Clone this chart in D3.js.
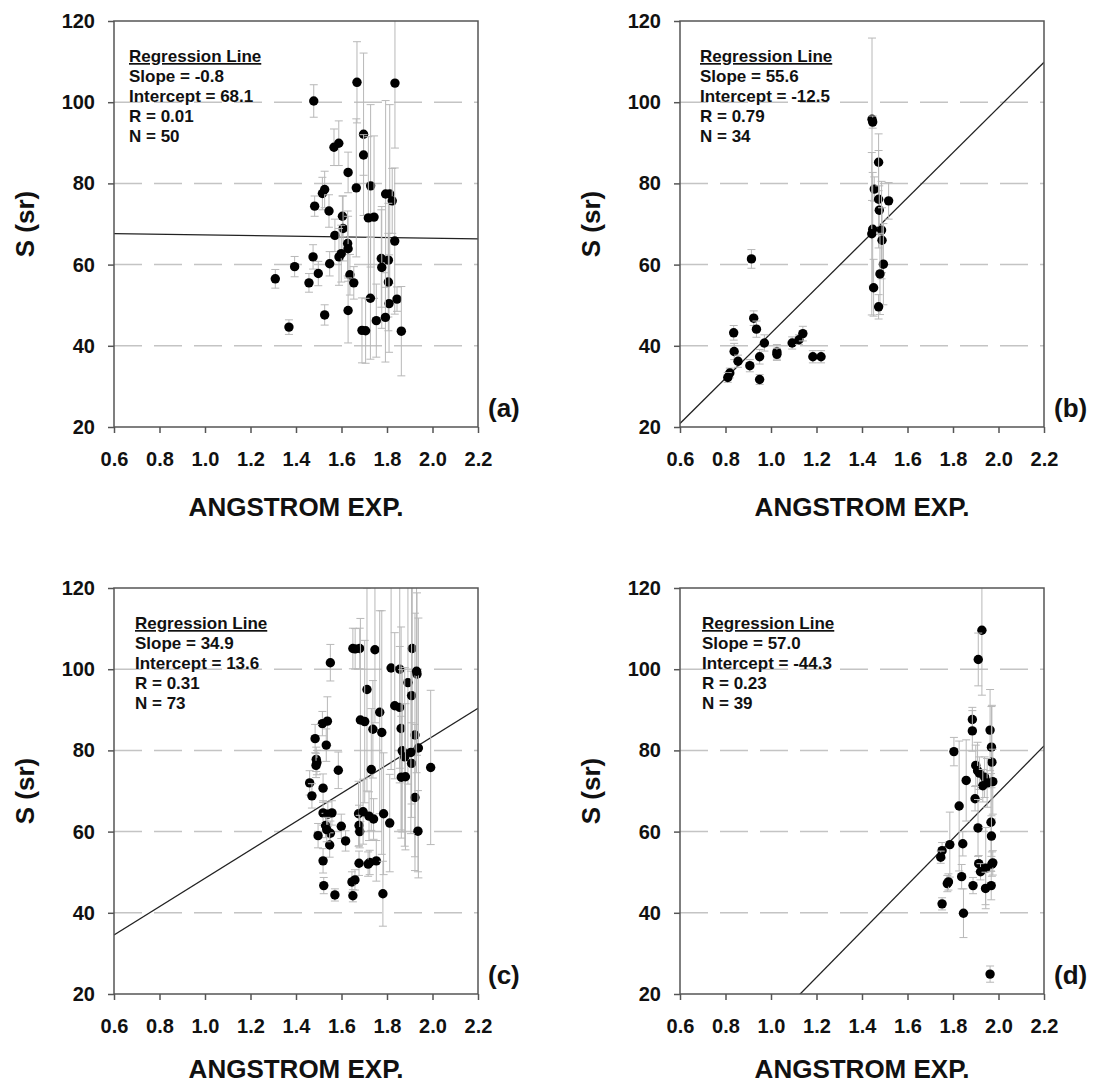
<!DOCTYPE html>
<html>
<head>
<meta charset="utf-8">
<script src="https://cdn.jsdelivr.net/npm/d3@7"></script>
<style>
  body { margin: 0; background: #fff; }
  svg text { font-family: "Liberation Sans", Arial, sans-serif; font-weight: bold; fill: #111; }
</style>
</head>
<body>
<div id="container"></div>
<script>
// ---- data ----
const xTicks = [0.6, 0.8, 1.0, 1.2, 1.4, 1.6, 1.8, 2.0, 2.2];
const yTicks = [20, 40, 60, 80, 100, 120];
const gridValues = [40, 60, 80, 100];
const panelLabels = ["(a)", "(b)", "(c)", "(d)"];
const slopes = [-0.8, 55.6, 34.9, 57.0];
const intercepts = [68.1, -12.5, 13.6, -44.3];
const rValues = [0.01, 0.79, 0.31, 0.23];
const nValues = [50, 34, 73, 39];

// panel (a)
const aAng = [1.478, 1.668, 1.835, 1.567, 1.588, 1.697, 1.697, 1.629, 1.665, 1.728,
  1.516, 1.526, 1.482, 1.545, 1.604, 1.718, 1.743, 1.794, 1.812, 1.823,
  1.607, 1.571, 1.627, 1.629, 1.834, 1.475, 1.394, 1.548, 1.589, 1.599,
  1.309, 1.457, 1.498, 1.637, 1.654, 1.775, 1.806, 1.777, 1.806, 1.369,
  1.526, 1.629, 1.727, 1.809, 1.844, 1.690, 1.706, 1.753, 1.793, 1.863];
const aS = [100.3, 104.9, 104.7, 88.9, 89.9, 92.1, 87.0, 82.7, 78.9, 79.4,
  77.5, 78.5, 74.4, 73.2, 71.9, 71.5, 71.7, 77.4, 77.4, 75.7,
  68.9, 67.2, 65.2, 63.9, 65.8, 61.9, 59.5, 60.2, 61.9, 62.7,
  56.5, 55.5, 57.8, 57.5, 55.5, 61.5, 61.1, 59.3, 55.7, 44.6,
  47.6, 48.7, 51.7, 50.4, 51.5, 43.8, 43.7, 46.2, 47.0, 43.6];
const aErr = [4, 10, 16, 4.5, 5.5, 20, 5, 5, 17, 20,
  4, 4.5, 2.5, 4, 5, 20, 20, 23, 22, 8,
  8, 4, 8, 8, 18, 3, 2.5, 3, 7, 7,
  2.3, 2.3, 3, 5, 4, 12, 14, 15, 12, 1.8,
  2.5, 8, 15, 12, 3, 8, 8, 9, 11, 11];

// panel (b)
const bAng = [1.444, 1.447, 1.473, 1.454, 1.473, 1.517, 1.476, 1.486, 1.447, 1.443,
  1.488, 1.494, 1.479, 1.451, 1.473, 0.914, 0.924, 0.936, 0.836, 0.971,
  0.838, 0.855, 0.950, 0.907, 0.950, 0.819, 0.810, 1.026, 1.026, 1.093,
  1.123, 1.140, 1.184, 1.220];
const bS = [95.8, 95.1, 85.2, 78.6, 76.1, 75.7, 73.4, 68.5, 68.7, 67.6,
  66.0, 60.1, 57.7, 54.3, 49.6, 61.4, 46.8, 44.1, 43.2, 40.7,
  38.6, 36.2, 37.3, 35.1, 31.7, 33.3, 32.2, 38.5, 37.9, 40.7,
  41.5, 43.0, 37.3, 37.3];
const bErr = [20, 1.5, 7, 3, 12, 4.5, 6, 12, 14, 20,
  8, 10, 10, 7, 3, 2.3, 1.8, 2, 1.8, 2,
  2, 1.5, 1.8, 1.5, 1.2, 1.2, 1.2, 1.8, 1.5, 1.5,
  1.2, 1.8, 1.5, 1.5];

// panel (c)
const cAng = [1.551, 1.650, 1.680, 1.747, 1.818, 1.856, 1.911, 1.932, 1.892, 1.908,
  1.712, 1.768, 1.834, 1.856, 1.516, 1.538, 1.683, 1.702, 1.738, 1.777,
  1.862, 1.923, 1.484, 1.533, 1.938, 1.867, 1.878, 1.908, 1.992, 1.489,
  1.492, 1.586, 1.731, 1.863, 1.881, 1.460, 1.519, 1.470, 1.923, 1.519,
  1.558, 1.675, 1.721, 1.741, 1.785, 1.812, 1.530, 1.599, 1.677, 1.680,
  1.936, 1.497, 1.551, 1.618, 1.548, 1.519, 1.677, 1.724, 1.753, 1.522,
  1.646, 1.659, 1.571, 1.650, 1.782, 1.540, 1.905, 1.695, 1.535, 1.488,
  1.717, 1.660, 1.930];
const cS = [101.6, 105.1, 105.1, 104.8, 100.3, 100.0, 105.1, 98.8, 96.7, 93.5,
  95.0, 89.4, 91.0, 90.6, 86.6, 87.2, 87.5, 87.1, 85.2, 84.4,
  85.4, 83.8, 82.9, 81.3, 80.6, 79.9, 78.4, 76.8, 75.8, 77.8,
  77.0, 75.1, 75.3, 73.4, 73.5, 72.0, 70.7, 68.8, 68.4, 64.6,
  64.6, 64.4, 63.8, 63.1, 64.4, 62.1, 61.5, 61.3, 61.5, 60.0,
  60.1, 59.0, 59.6, 57.7, 56.7, 52.8, 52.2, 52.4, 52.8, 46.7,
  47.6, 48.1, 44.4, 44.2, 44.7, 64.3, 79.5, 64.9, 60.5, 76.3,
  52.0, 105.0, 99.5];
const cErr = [4.5, 5, 5, 18, 25, 28, 25, 20, 25, 30,
  25, 25, 18, 15, 3, 6, 25, 20, 12, 30,
  25, 30, 3.5, 4, 32, 20, 22, 10, 19, 3,
  3, 4.5, 15, 15, 18, 3, 3.5, 3, 18, 3,
  3, 8, 6, 5, 15, 12, 3, 3, 5, 4,
  10, 3, 3, 2.5, 3, 3, 3, 3, 5, 2,
  2.5, 2.5, 1.5, 1.5, 8, 3, 20, 8, 3, 3,
  3, 5, 25];

// panel (d)
const dAng = [1.927, 1.911, 1.885, 1.885, 1.963, 1.969, 1.804, 1.971, 1.900, 1.908,
  1.916, 1.939, 1.950, 1.931, 1.858, 1.975, 1.897, 1.827, 1.910, 1.967,
  1.969, 1.786, 1.843, 1.752, 1.746, 1.913, 1.921, 1.944, 1.971, 1.838,
  1.775, 1.780, 1.888, 1.943, 1.968, 1.752, 1.846, 1.963, 1.975];
const dS = [109.6, 102.4, 87.6, 84.8, 85.0, 80.8, 79.7, 77.1, 76.3, 75.0,
  74.4, 73.4, 72.0, 71.3, 72.6, 72.3, 68.1, 66.3, 60.9, 62.3,
  58.9, 56.8, 57.0, 55.3, 53.7, 52.1, 50.1, 51.0, 52.0, 48.9,
  47.2, 47.6, 46.7, 46.0, 46.7, 42.2, 39.9, 24.9, 52.3];
const dErr = [16, 6.5, 3, 5, 10, 10, 3.5, 14, 5, 7,
  4, 5, 6, 4, 10, 8, 3, 16, 7, 12,
  5, 8, 3, 2, 1.5, 2, 2, 10, 3, 3,
  2, 2, 2, 4, 3.5, 1.5, 6, 2, 3];

const panelAng = [aAng, bAng, cAng, dAng];
const panelS = [aS, bS, cS, dS];
const panelErr = [aErr, bErr, cErr, dErr];

// ---- layout ----
const W = 1097, H = 1083;
const pw = 364, ph = 406;
const origins = [[114, 21], [680, 21], [114, 588], [680, 588]];
const textDx = [15, 20, 21, 22];
const titleDy = [89, 89, 84, 84];

const svg = d3.select("#container").append("svg")
  .attr("width", W)
  .attr("height", H);

function drawPanel(i) {
  const g = svg.append("g")
    .attr("transform", `translate(${origins[i][0]},${origins[i][1]})`);
  const x = d3.scaleLinear().domain([0.6, 2.2]).range([0, pw]);
  const y = d3.scaleLinear().domain([20, 120]).range([ph, 0]);

  g.append("clipPath").attr("id", "clip" + i)
    .append("rect").attr("width", pw).attr("height", ph);

  // dashed grid
  g.selectAll(".grid").data(gridValues).join("line")
    .attr("class", "grid")
    .attr("x1", 0).attr("x2", pw)
    .attr("y1", d => y(d)).attr("y2", d => y(d))
    .attr("stroke", "#c4c4c4")
    .attr("stroke-width", 1.5)
    .attr("stroke-dasharray", "28,12");

  const plot = g.append("g").attr("clip-path", `url(#clip${i})`);

  // regression line
  plot.append("line")
    .attr("x1", x(0.6)).attr("y1", y(slopes[i] * 0.6 + intercepts[i]))
    .attr("x2", x(2.2)).attr("y2", y(slopes[i] * 2.2 + intercepts[i]))
    .attr("stroke", "#222")
    .attr("stroke-width", 1.3);

  const pts = panelAng[i].map((a, k) => ({ a: a, s: panelS[i][k], e: panelErr[i][k] }));
  const pg = plot.selectAll(".pt").data(pts).join("g").attr("class", "pt");
  pg.append("line")
    .attr("x1", d => x(d.a)).attr("x2", d => x(d.a))
    .attr("y1", d => y(d.s - d.e)).attr("y2", d => y(d.s + d.e))
    .attr("stroke", "#b8b8b8").attr("stroke-width", 1);
  [-1, 1].forEach(sgn => {
    pg.append("line")
      .attr("x1", d => x(d.a) - 4).attr("x2", d => x(d.a) + 4)
      .attr("y1", d => y(d.s + sgn * d.e)).attr("y2", d => y(d.s + sgn * d.e))
      .attr("stroke", "#b8b8b8").attr("stroke-width", 1);
  });
  pg.append("circle")
    .attr("cx", d => x(d.a))
    .attr("cy", d => y(d.s))
    .attr("r", 4.7)
    .attr("fill", "#000");

  // frame
  g.append("rect")
    .attr("width", pw).attr("height", ph)
    .attr("fill", "none")
    .attr("stroke", "#555")
    .attr("stroke-width", 1.5);

  // axes
  const xAxis = g.append("g")
    .attr("transform", `translate(0,${ph})`)
    .call(d3.axisBottom(x).tickValues(xTicks).tickFormat(d3.format(".1f"))
      .tickSizeInner(6).tickSizeOuter(0).tickPadding(19));
  const yAxis = g.append("g")
    .call(d3.axisLeft(y).tickValues(yTicks).tickFormat(d3.format("d"))
      .tickSizeInner(6).tickSizeOuter(0).tickPadding(13));
  [xAxis, yAxis].forEach(ax => {
    ax.select(".domain").remove();
    ax.selectAll(".tick line").attr("stroke", "#555").attr("stroke-width", 1.5);
    ax.selectAll(".tick text").attr("font-size", 20).attr("fill", "#111");
    ax.attr("font-family", null).attr("font-size", null);
  });

  // axis titles
  g.append("text")
    .attr("x", pw / 2).attr("y", ph + titleDy[i])
    .attr("text-anchor", "middle")
    .attr("font-size", 26)
    .text("ANGSTROM EXP.");
  g.append("text")
    .attr("transform", `translate(-80,${ph / 2}) rotate(-90)`)
    .attr("text-anchor", "middle")
    .attr("font-size", 26)
    .text("S (sr)");

  // panel label
  g.append("text")
    .attr("x", pw + 10).attr("y", ph - 10)
    .attr("font-size", 26)
    .text(panelLabels[i]);

  // regression stats
  const lines = [
    "Regression Line",
    "Slope = " + slopes[i].toFixed(1),
    "Intercept = " + intercepts[i].toFixed(1),
    "R = " + rValues[i].toFixed(2),
    "N = " + nValues[i]
  ];
  g.selectAll(".stat").data(lines).join("text")
    .attr("class", "stat")
    .attr("x", textDx[i])
    .attr("y", (d, k) => 41 + k * 20)
    .attr("font-size", 17)
    .attr("text-decoration", (d, k) => k === 0 ? "underline" : null)
    .text(d => d);
}

for (let i = 0; i < 4; i++) drawPanel(i);
</script>
</body>
</html>
